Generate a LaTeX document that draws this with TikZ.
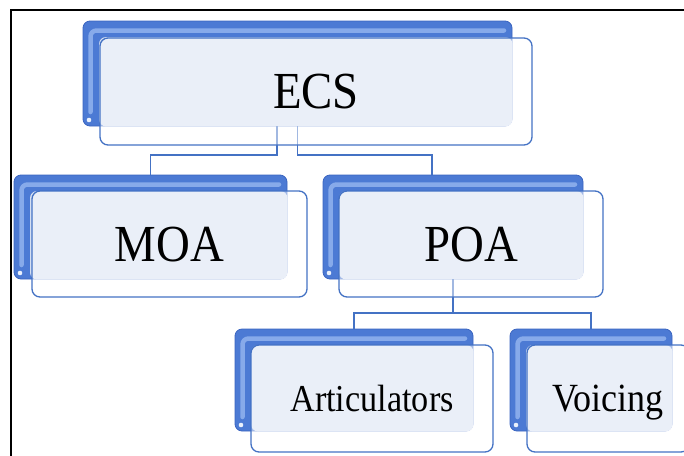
\documentclass[tikz,border=0pt]{standalone}
\usepackage{fontspec}
\setmainfont{Liberation Serif}

\definecolor{bev}{RGB}{76,122,212}
\definecolor{bevdark}{RGB}{58,100,192}
\definecolor{glint}{RGB}{150,183,240}
\definecolor{plateinner}{RGB}{213,223,242}
\definecolor{edge}{RGB}{68,114,196}

\tikzset{
  plate/.style={draw=bevdark, fill=bev, line width=0.8pt, rounded corners=7pt,
    rectangle, inner sep=0pt},
  panel/.style={draw=edge, line width=1.3pt, fill=white, fill opacity=0.5,
    text opacity=1, rounded corners=8pt, rectangle, inner sep=0pt, text depth=0pt},
  conn/.style={draw=edge, line width=1.9pt},
  glintline/.style={draw=glint, line width=4.5pt, rounded corners=6pt, opacity=0.8,
    line cap=round},
  framerule/.style={draw=black, line width=1.6pt}
}

% bevelled blue plate behind a label panel: name, x0, y0, x1, y1
\newcommand\bevelplate[5]{%
  \node[plate, minimum width={#4-#2}, minimum height={#5-#3}]
    (#1B) at ({(#2+#4)/2},{(#3+#5)/2}) {};
  \fill[plateinner, rounded corners=7pt] ({#2+16},{#3+16}) rectangle ({#4+0.4},{#5+0.4});
  \draw[glintline] ({#2+7.5},{#5-14}) -- ({#2+7.5},{#3+9.5}) -- ({#4-8},{#3+9.5});
  \fill[white!80!glint] ({#2+6},{#5-6}) circle (2.3);
}

% translucent label panel: name, x0, y0, x1, y1, font size, text
\newcommand\labelpanel[7]{%
  \node[panel, minimum width={#4-#2}, minimum height={#5-#3},
    font=\fontsize{#6}{#6}\selectfont]
    (#1) at ({(#2+#4)/2},{(#3+#5)/2}) {\scalebox{0.9}[1]{#7}};
}

\begin{document}
\begin{tikzpicture}[x=1pt,y=-1pt]
\useasboundingbox (0,0) rectangle (684,455);
\clip (0,0) rectangle (684,455);

% outer rule along the left and top
\coordinate (fbl) at (11,456);
\coordinate (ftl) at (11,10);
\coordinate (ftr) at (685,10);
\draw[framerule] (fbl) -- (ftl) -- (ftr);

% back plates
\bevelplate{ecs}{83}{21}{512}{126}
\bevelplate{moa}{14}{175}{287}{279}
\bevelplate{poa}{323}{175}{583}{279}
\bevelplate{art}{235}{329}{473}{431}
\bevelplate{voi}{510}{329}{672}{431}

% hierarchy connectors
\draw[conn] ([xshift=-20.5pt]ecsB.south) -- ++(0,29) -| (moaB.north);
\draw[conn] (ecsB.south) -- ++(0,29) -| ([xshift=-21pt]poaB.north);
\draw[conn] (poaB.south) -- ++(0,34) -| (artB.north);
\draw[conn] (poaB.south) -- ++(0,34) -| (voiB.north);

% front label panels
\labelpanel{ecs}{100}{38}{532}{145}{52}{ECS}
\labelpanel{moa}{32}{191}{307}{297}{52}{MOA}
\labelpanel{poa}{339}{191}{603}{297}{52}{POA}
\labelpanel{art}{251}{345}{493}{452}{38}{Articulators}
\labelpanel{voi}{527}{345}{689}{452}{40}{Voicing}
\end{tikzpicture}
\end{document}
